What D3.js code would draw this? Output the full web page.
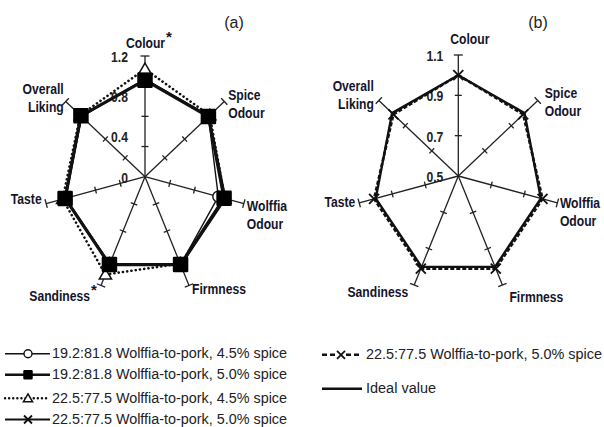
<!DOCTYPE html>
<html><head><meta charset="utf-8">
<script src="https://cdn.jsdelivr.net/npm/d3@7"></script>
<style>
html,body{margin:0;padding:0;background:#fff;}
svg{display:block;}
.lab{font-family:"Liberation Sans",Arial,sans-serif;font-weight:bold;font-size:15px;fill:#15152a;}
.tk{font-family:"Liberation Sans",Arial,sans-serif;font-weight:bold;font-size:15px;fill:#222;}
.leg{font-family:"Liberation Sans",Arial,sans-serif;font-size:14px;fill:#222;}
.pan{font-family:"Liberation Sans",Arial,sans-serif;font-size:16px;fill:#222;}
</style>
</head><body>
<svg id="c" width="604" height="427"></svg>
<script>
// ---------- data ----------
const attributes = ["Colour","Spice Odour","Wolffia Odour","Firmness","Sandiness","Taste","Overall Liking"];
const starred = ["Colour","Sandiness"];
// panel (a)
const ticksA = [0, 0.4, 0.8, 1.2];
const tickMarksA = [0.3, 0.6, 0.9];
const s192_45 = [0.97, 0.96, 0.89, 0.97, 0.96, 0.96, 0.96];
const s192_50 = [0.96, 0.96, 0.96, 0.97, 0.97, 0.97, 0.97];
const s225_45 = [1.07, 0.98, 0.97, 0.96, 1.08, 1.00, 0.98];
const s225_50a = [0.97, 0.97, 0.98, 0.98, 0.96, 0.97, 0.96];
// panel (b)
const ticksB = [0.5, 0.7, 0.9, 1.1];
const tickMarksB = [0.7, 0.9];
const s225_50b = [1.00, 0.99, 1.01, 1.01, 1.01, 1.01, 0.99];
const idealValue = [1.0, 1.0, 1.0, 1.0, 1.0, 1.0, 1.0];
const legendLeft = ["19.2:81.8 Wolffia-to-pork, 4.5% spice","19.2:81.8 Wolffia-to-pork, 5.0% spice","22.5:77.5 Wolffia-to-pork, 4.5% spice","22.5:77.5 Wolffia-to-pork, 5.0% spice"];
const legendRight = ["22.5:77.5 Wolffia-to-pork, 5.0% spice","Ideal value"];

// ---------- layout ----------
const svg = d3.select("#c");
const SX = 0.84;       // horizontal compression of the original figure
const NARROW = 0.81;   // condensed lettering
const ang = d3.scaleLinear().domain([0, attributes.length]).range([0, 2*Math.PI]);

// condensed text: scale horizontally about its anchor point
function ctext(g, cls, x, y, anchor, str, fs){
  const t = g.append("text").attr("class",cls).attr("x",x).attr("y",y).attr("text-anchor",anchor).text(str)
    .attr("transform",`translate(${x},0) scale(${NARROW},1) translate(${-x},0)`);
  if(fs) t.attr("font-size",fs);
  return t;
}

function makePanel(cfg){
  const g = svg.append("g");
  const r = d3.scaleLinear().domain(cfg.domain).range([0, cfg.R]);
  const P = (i, v) => { const a = ang(i), rr = r(v); return [cfg.cx + SX*rr*Math.sin(a), cfg.cy - rr*Math.cos(a)]; };
  const perp = (i) => { const a = ang(i); let ux = SX*Math.sin(a), uy = -Math.cos(a); const n = Math.hypot(ux,uy); ux/=n; uy/=n; return [-uy, ux]; };
  const maxV = cfg.domain[1];
  // axes
  attributes.forEach((att,i)=>{
    const p0 = P(i, cfg.domain[0]), p1 = P(i, maxV);
    g.append("line").attr("x1",p0[0]).attr("y1",p0[1]).attr("x2",p1[0]).attr("y2",p1[1])
      .attr("stroke","#222").attr("stroke-width",1.3);
    const [px,py] = perp(i);
    cfg.tickMarks.concat([maxV]).forEach(t=>{
      const q = P(i,t); const L = t===maxV ? 4.5 : 3.5;
      g.append("line").attr("x1",q[0]-px*L).attr("y1",q[1]-py*L).attr("x2",q[0]+px*L).attr("y2",q[1]+py*L)
        .attr("stroke","#222").attr("stroke-width",1.3);
    });
  });
  // tick labels
  cfg.ticks.forEach(t=>{
    const q = P(0,t);
    ctext(g, "tk", cfg.cx-cfg.tlOff, q[1]+6, "end", cfg.fmt(t));
  });
  // axis labels
  attributes.forEach((att,i)=>{
    const L = cfg.labels[i]; const e = P(i,maxV);
    const words = att.split(" ");
    const starIt = cfg.star && starred.includes(att);
    if(starIt){
      const STARW = 6;
      const x0 = e[0]+L.dx - (L.anchor==="end"?STARW:0);
      const t = ctext(g, "lab", x0, e[1]+L.dy, L.anchor, att);
      const w = t.node().getComputedTextLength()*NARROW;
      const xEnd = L.anchor==="end" ? x0 : x0 + w;
      g.append("text").attr("class","lab").attr("font-size","11px").attr("x",xEnd+1).attr("y",e[1]+L.dy-6).text("*");
    } else {
      words.forEach((w,k)=>{
        ctext(g, "lab", e[0]+L.dx, e[1]+L.dy+k*18, L.anchor, w);
      });
    }
  });
  // series
  const line = d3.line().curve(d3.curveLinearClosed);
  cfg.series.forEach(s=>{
    const pts = s.values.map((v,i)=>P(i,v));
    g.append("path").attr("d",line(pts)).attr("fill","none").attr("stroke","#111")
      .attr("stroke-width",s.sw).attr("stroke-dasharray",s.dash||null)
      .attr("stroke-linecap",s.cap||"butt").attr("stroke-linejoin","round");
    pts.forEach(p=>drawMarker(g, s.marker, p[0], p[1], s.msize));
  });
}

function drawMarker(g, type, x, y, size){
  if(type==="circle"){
    g.append("circle").attr("cx",x).attr("cy",y).attr("r",size/2).attr("fill","#fff").attr("stroke","#111").attr("stroke-width",1.4);
  } else if(type==="square"){
    g.append("path").attr("d",d3.symbol(d3.symbolSquare, size*size)()).attr("transform",`translate(${x},${y})`)
      .attr("fill","#000").attr("stroke","#000").attr("stroke-width",2.5).attr("stroke-linejoin","round");
  } else if(type==="triangle"){
    g.append("path").attr("d",d3.symbol(d3.symbolTriangle, size*size*0.45)()).attr("transform",`translate(${x},${y+1})`)
      .attr("fill","#fff").attr("stroke","#111").attr("stroke-width",1.5);
  } else if(type==="x"){
    const h=size/2;
    g.append("path").attr("d",`M${x-h},${y-h}L${x+h},${y+h}M${x-h},${y+h}L${x+h},${y-h}`)
      .attr("stroke","#111").attr("stroke-width",1.8).attr("fill","none");
  }
}

makePanel({
  cx:145, cy:176.7, R:120.7, domain:[0,1.2], ticks:ticksA, tickMarks:tickMarksA, tlOff:17,
  fmt:d=>d===0?"0":d3.format(".1f")(d), star:true,
  labels:[
    {anchor:"start",dx:-19,dy:-8},
    {anchor:"start",dx:4,dy:-1.5},
    {anchor:"start",dx:3,dy:7.5},
    {anchor:"start",dx:3,dy:8.5},
    {anchor:"end",dx:-5,dy:16},
    {anchor:"end",dx:-4.5,dy:0.5},
    {anchor:"end",dx:-2,dy:-7.5}
  ],
  series:[
    {values:s192_45, sw:1.4, marker:"circle", msize:11},
    {values:s225_45, sw:2.6, dash:"0.1,4.2", cap:"round", marker:"triangle", msize:12},
    {values:s225_50a, sw:1.6, marker:"x", msize:9},
    {values:s192_50, sw:3.2, marker:"square", msize:13}
  ]
});

makePanel({
  cx:458.3, cy:176, R:121, domain:[0.5,1.1], ticks:ticksB, tickMarks:tickMarksB, tlOff:15,
  fmt:d3.format(".1f"), star:false,
  labels:[
    {anchor:"start",dx:-8,dy:-11},
    {anchor:"start",dx:7,dy:-2.3},
    {anchor:"start",dx:2.5,dy:5.4},
    {anchor:"start",dx:7,dy:16.7},
    {anchor:"end",dx:-6,dy:12.3},
    {anchor:"end",dx:-4,dy:3.8},
    {anchor:"end",dx:-5,dy:-10}
  ],
  series:[
    {values:idealValue, sw:2.4, marker:"none", msize:0},
    {values:s225_50b, sw:2.6, dash:"4,2", marker:"x", msize:10}
  ]
});

// panel titles
svg.append("text").attr("class","pan").attr("x",234).attr("y",28).attr("text-anchor","middle").text("(a)");
svg.append("text").attr("class","pan").attr("x",538).attr("y",28).attr("text-anchor","middle").text("(b)");

// legends
const legL = [
  {marker:"circle", sw:1.4, msize:8},
  {marker:"square", sw:2.4, msize:7},
  {marker:"triangle", sw:2.4, dash:"0.1,4", cap:"round", msize:9},
  {marker:"x", sw:1.8, msize:8}
];
const legLY = [358.3, 379.3, 402.7, 424];
legendLeft.forEach((txt,k)=>{
  const y = legLY[k]-4.5, s = legL[k];
  svg.append("line").attr("x1",5).attr("x2",50).attr("y1",y).attr("y2",y).attr("stroke","#111")
    .attr("stroke-width",s.sw).attr("stroke-dasharray",s.dash||null).attr("stroke-linecap",s.cap||"butt");
  drawMarker(svg, s.marker, 28, y, s.msize);
  svg.append("text").attr("class","leg").attr("x",52).attr("y",legLY[k]).attr("textLength",235).attr("lengthAdjust","spacingAndGlyphs").text(txt);
});
const legRY = [359.3, 393.3];
const legR = [
  {marker:"x", sw:2.6, dash:"5,3", msize:8, len:236},
  {marker:"none", sw:2.4, msize:0, len:70}
];
legendRight.forEach((txt,k)=>{
  const y = legRY[k]-4.5, s = legR[k];
  svg.append("line").attr("x1",322).attr("x2",362).attr("y1",y).attr("y2",y).attr("stroke","#111")
    .attr("stroke-width",s.sw).attr("stroke-dasharray",s.dash||null);
  if(s.marker!=="none"){ svg.append("rect").attr("x",336).attr("y",y-5).attr("width",10).attr("height",10).attr("fill","#fff");
    drawMarker(svg, s.marker, 341, y, s.msize); }
  svg.append("text").attr("class","leg").attr("x",366).attr("y",legRY[k]).attr("textLength",s.len).attr("lengthAdjust","spacingAndGlyphs").text(txt);
});
</script>
</body></html>
